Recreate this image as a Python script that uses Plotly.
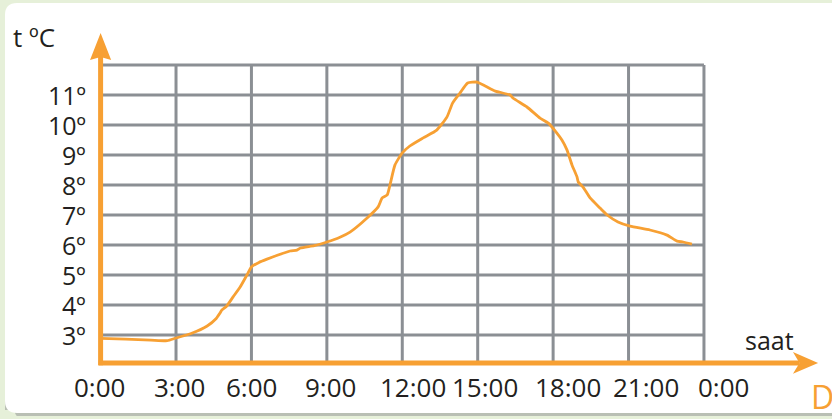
import plotly.graph_objects as go

# ---- data ----
hours = [0.0, 1.0, 2.0, 2.65, 3.0, 3.6, 4.24, 4.6, 4.75, 4.82, 5.0, 5.27, 5.55, 5.82, 6.0,
         6.3, 6.62, 7.0, 7.54, 7.81, 7.95, 8.5, 9.0, 9.5, 9.92, 10.6, 11.04, 11.2, 11.4,
         11.51, 11.71, 12.0, 12.3, 12.83, 13.37, 13.78, 14.0, 14.3, 14.6, 14.97, 15.3,
         15.7, 16.29, 16.4, 16.96, 17.48, 17.8, 18.15, 18.35, 18.55, 18.75, 18.95, 19.0,
         19.19, 19.47, 19.87, 20.15, 20.58, 21.06, 21.85, 22.53, 22.93, 23.17, 23.52]
temps = [2.89, 2.86, 2.83, 2.81, 2.9, 3.05, 3.3, 3.55, 3.73, 3.83, 3.95, 4.27, 4.6, 5.0, 5.27,
         5.42, 5.53, 5.65, 5.8, 5.83, 5.9, 5.98, 6.1, 6.25, 6.43, 6.9, 7.27, 7.57, 7.67,
         8.0, 8.67, 9.07, 9.3, 9.57, 9.83, 10.27, 10.73, 11.07, 11.4, 11.43, 11.3,
         11.13, 11.0, 10.9, 10.6, 10.23, 10.07, 9.73, 9.5, 9.17, 8.67, 8.27, 8.1,
         7.93, 7.57, 7.23, 7.0, 6.77, 6.63, 6.5, 6.33, 6.13, 6.1, 6.03]

hour_ticks = [0, 3, 6, 9, 12, 15, 18, 21, 24]
hour_labels = ["0:00", "3:00", "6:00", "9:00", "12:00", "15:00", "18:00", "21:00", "0:00"]
hour_label_pos = [-0.06, 3.12, 6.02, 9.13, 12.43, 15.3, 18.6, 21.7, 24.77]
temp_ticks = [3, 4, 5, 6, 7, 8, 9, 10, 11]
temp_labels = ["3º", "4º", "5º", "6º", "7º", "8º", "9º", "10º", "11º"]
grid_top = 12
axis_y = 2.07

ORANGE = "#f7a033"
GRID = "#8b8f94"
TEXT = "#231f20"
FONT = "Open Sans"

fig = go.Figure()
fig.add_trace(go.Scatter(x=hours, y=temps, mode="lines",
                         line=dict(color=ORANGE, width=2.8, shape="spline", smoothing=0.5),
                         hoverinfo="skip"))

shapes = []
W, H = 832, 419
def px(x): return x / W
def py(y): return 1 - y / H
r = 12
card = (f"M {px(5)},{py(3+r)} Q {px(5)},{py(3)} {px(5+r)},{py(3)} "
        f"L {px(840)},{py(3)} L {px(840)},{py(413)} L {px(5+r)},{py(413)} "
        f"Q {px(5)},{py(413)} {px(5)},{py(413-r)} Z")
shadow = (f"M {px(5)},{py(5+r)} Q {px(5)},{py(416)} {px(5+r)},{py(416)} "
          f"L {px(840)},{py(416)} L {px(840)},{py(410)} L {px(5)},{py(410)} Z")
shapes.append(dict(type="path", path=shadow, xref="paper", yref="paper",
                   fillcolor="#b9bfb4", line=dict(width=0), layer="below"))
shapes.append(dict(type="path", path=card, xref="paper", yref="paper",
                   fillcolor="white", line=dict(width=0), layer="below"))

# grid
for h in hour_ticks[1:]:
    shapes.append(dict(type="line", x0=h, x1=h, y0=axis_y, y1=grid_top, xref="x", yref="y",
                       line=dict(color=GRID, width=3), layer="below"))
for t in temp_ticks + [grid_top]:
    shapes.append(dict(type="line", x0=0, x1=24, y0=t, y1=t, xref="x", yref="y",
                       line=dict(color=GRID, width=3), layer="below"))

# orange axes with arrows
shapes.append(dict(type="line", x0=0, x1=0, y0=axis_y - 0.08, y1=12.4, xref="x", yref="y",
                   line=dict(color=ORANGE, width=5)))
shapes.append(dict(type="line", x0=-0.08, x1=27.8, y0=axis_y, y1=axis_y, xref="x", yref="y",
                   line=dict(color=ORANGE, width=5)))
shapes.append(dict(type="path", xref="x", yref="y",
                   path="M 0,13.07 L 0.42,12.17 L 0,12.27 L -0.42,12.17 Z",
                   fillcolor=ORANGE, line=dict(width=0)))
shapes.append(dict(type="path", xref="x", yref="y",
                   path=f"M 28.54,{axis_y} L 27.54,{axis_y+0.36} L 27.8,{axis_y} L 27.54,{axis_y-0.36} Z",
                   fillcolor=ORANGE, line=dict(width=0)))

ann = []
for t, lab in zip(temp_ticks, temp_labels):
    ann.append(dict(x=-0.5, y=t, text=lab, xref="x", yref="y", xanchor="right", yanchor="middle",
                    showarrow=False, font=dict(family=FONT, size=25, color=TEXT)))
for h, lab in zip(hour_label_pos, hour_labels):
    ann.append(dict(x=h, y=1.27, text=lab, xref="x", yref="y", xanchor="center", yanchor="middle",
                    showarrow=False, font=dict(family=FONT, size=26, color=TEXT)))
ann.append(dict(x=px(11), y=py(37), text="t ºC", xref="paper", yref="paper", xanchor="left",
                yanchor="middle", showarrow=False, font=dict(family=FONT, size=26, color=TEXT)))
ann.append(dict(x=px(743), y=py(340), text="saat", xref="paper", yref="paper", xanchor="left",
                yanchor="middle", showarrow=False, font=dict(family=FONT, size=25, color=TEXT)))
ann.append(dict(x=px(809), y=py(396), text="D", xref="paper", yref="paper", xanchor="left",
                yanchor="middle", showarrow=False, font=dict(family=FONT, size=32, color=ORANGE)))

x0 = -100.6 / 25.14
x1 = (832 - 100.6) / 25.14
fig.update_layout(
    width=W, height=H, margin=dict(l=0, r=0, t=0, b=0),
    paper_bgcolor="#e6f0d9", plot_bgcolor="rgba(0,0,0,0)",
    showlegend=False, shapes=shapes, annotations=ann,
    xaxis=dict(range=[x0, x1], visible=False, fixedrange=True),
    yaxis=dict(range=[2 - 54 / 30, 2 + 365 / 30], visible=False, fixedrange=True),
)
fig.write_html("out.html", config={"displayModeBar": False},
               post_script="document.body.style.margin='0';document.body.style.overflow='hidden';")
